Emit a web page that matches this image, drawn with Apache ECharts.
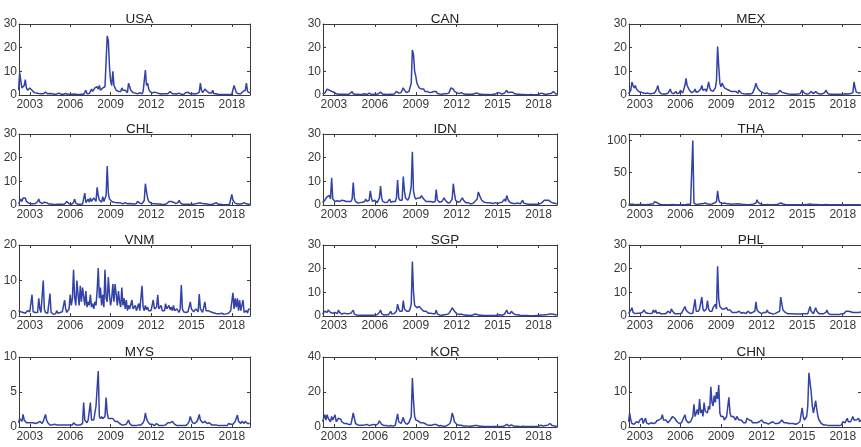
<!DOCTYPE html>
<html><head><meta charset="utf-8">
<script src="https://cdn.jsdelivr.net/npm/echarts@6/dist/echarts.min.js"></script>
<style>html,body{margin:0;padding:0;background:#fff}#c{width:861px;height:447px}</style>
</head><body><div id="c"></div>
<script>
// Monthly series, Mar 2002 .. May 2019 (207 values each)
const panelNames = ['USA','CAN','MEX','CHL','IDN','THA','VNM','SGP','PHL','MYS','KOR','CHN'];
const yMax  = [30,30,30,30,30,110,20,30,30,10,40,20];
const yStep = [10,10,10,10,10,50,10,10,10,5,20,10];
const xTickYears = [2003,2006,2009,2012,2015,2018];
const startYear = 2002, startMonth = 3;

const USA = [
2,9.5,6,3,2.5,4,6.5,3,2,2.5,
3,2.5,2,1.5,1,1.2,0.8,1,0.6,0.8,0.5,0.6,
0.5,0.8,1.2,0.6,0.5,0.4,0.6,1,0.5,0.4,0.3,0.5,
0.4,0.3,0.8,0.4,0.3,0.5,0.3,0.2,0.6,0.4,0.3,0.3,
0.3,0.5,0.3,0.9,0.4,0.3,0.2,0.3,0.2,0.4,0.3,0.2,
0.3,0.5,2,0.5,0.4,0.6,1.5,2.5,1.5,2,3,2.5,
3.5,2.5,4,2,1.5,3,2.5,3.5,4,25,23,12,
6,4,10,4,3,2,2.5,1.5,2,1.5,3,2,
1.5,2,2.5,1,5,3.5,2,1.5,1,1,0.8,0.6,
0.5,0.8,1,0.6,0.5,1.5,2,10.5,4,5,2.5,1.5,
1,0.8,0.6,1.2,1.5,1,0.7,0.6,0.5,0.4,0.6,0.5,
0.4,0.5,0.6,0.5,1.2,1.5,0.8,0.5,0.4,0.5,0.6,0.4,
0.3,0.8,0.5,0.3,0.3,0.2,0.4,1,0.5,1.2,0.6,0.5,
1,0.6,0.5,0.4,0.8,0.6,0.8,1.2,5,2,1,0.8,
2.5,3,1.5,1,0.8,1.5,0.8,2,0.5,0.4,0.5,0.3,
0.2,0.3,0.2,0.1,0.2,0.1,0.2,0.1,0.2,0.1,0.2,0.3,
0.3,1,4,2.5,1,0.6,0.5,0.3,0.5,0.4,1.5,1,
2,5,1.5,1,0.8];

const CAN = [
0.5,1,0.8,1.5,2.5,3,2,2.5,1.5,1,
1.2,0.8,0.5,0.4,0.3,0.5,0.3,0.2,0.3,0.2,0.3,0.2,
0.2,0.3,0.5,0.8,1.5,0.5,0.3,0.2,0.2,0.3,0.2,0.2,
0.2,0.3,0.2,0.5,0.3,0.2,0.2,0.8,0.3,0.2,0.2,0.3,
0.2,0.3,0.2,0.5,0.8,1.2,0.4,0.3,0.2,0.3,0.2,0.2,
0.2,0.3,0.5,0.3,0.2,0.4,0.8,1.5,1,0.8,1.2,1,
2,3,2,1.5,1,1.2,1.5,2,5,19,17,10,
8,5,4,3,3.5,2.5,2,2.5,1.5,2,1.5,1,
1,0.8,1.2,0.8,1.5,0.8,1.5,0.6,0.5,0.4,0.5,0.3,
0.4,0.5,0.3,0.5,0.6,0.8,1.5,3,3,2.5,1.5,1.2,
1,0.8,0.6,0.5,1,0.8,0.5,0.4,0.3,0.4,0.3,0.3,
0.3,0.2,0.3,0.4,0.6,1,0.8,0.5,0.3,0.2,0.3,0.2,
0.2,0.1,0.2,0.1,0.2,0.2,0.1,0.2,0.3,0.5,0.4,0.5,
1,1.5,0.8,0.5,0.4,0.5,0.8,1.5,2,1,0.8,1.2,
2,1.2,0.8,0.5,0.4,0.3,0.5,0.3,0.2,0.2,0.3,0.2,
0.2,0.1,0.2,0.1,0.1,0.2,0.1,0.1,0.2,0.1,0.2,0.1,
0.2,0.5,1,0.8,0.4,0.3,0.2,0.3,0.2,0.5,0.4,0.6,
1,1.5,0.8,0.5,0.3];

const MEX = [
0.5,1,2,5.5,4,3,4,2.5,2,1.5,
1.5,1.2,1,0.8,1,0.6,0.5,0.8,0.6,0.5,0.8,0.6,
0.5,0.8,1.5,2.5,4,1.5,0.8,0.5,0.6,0.4,0.5,0.4,
0.5,0.8,1.5,2.5,1,0.6,0.5,0.8,1.5,0.6,0.5,0.8,
2,1.2,0.8,1.5,4,7,4,3,2,1.2,1,0.8,
1.5,2.5,1.2,0.8,1.5,2,2.5,4,2,1.5,2.5,1.5,
3,5.5,3,2,2.5,1.5,2,3,6,20.5,12,5,
3.5,5,4,3,3.5,2.5,3,2,2.5,1.5,2,1.5,
1.2,1.5,1,0.8,2,1.5,0.8,0.6,0.5,0.6,0.4,0.5,
0.5,0.6,0.4,0.5,0.8,1.5,3,5,3.5,2.5,2,1.5,
1.2,1,0.8,0.6,1,0.8,0.5,0.4,0.6,0.4,0.5,0.4,
0.4,0.5,0.6,1,2,1.5,1.2,1,0.8,1,0.6,0.5,
0.4,0.5,0.3,0.4,0.3,0.4,0.3,0.5,0.4,0.6,0.5,1,
2,1.2,0.8,0.5,0.4,0.6,0.5,0.8,1.5,0.8,0.6,1,
1.5,1,0.6,0.5,0.4,0.6,0.5,0.8,1,2,1.2,0.5,
0.4,0.3,0.2,0.3,0.2,0.3,0.2,0.3,0.2,0.3,0.2,0.3,
0.3,0.4,0.3,0.5,0.6,0.4,0.5,0.6,0.5,1,5.5,3,
1.2,1,0.8,1.5,1];

const CHL = [
0.5,1,2.5,1.5,3,2.5,3,1.5,1,0.8,
0.6,0.5,0.8,0.5,0.4,0.6,0.8,1.5,2.5,1.2,0.8,0.6,
0.8,1.2,1.5,1,0.6,0.4,0.3,0.4,0.3,0.2,0.3,0.2,
0.2,0.3,0.5,0.3,0.2,0.3,0.2,0.4,0.8,1.5,1,0.5,
0.4,0.3,0.5,1,2.5,0.8,0.4,0.3,0.2,0.3,0.2,0.4,
0.5,5,1,0.8,2.5,1.2,3,1.5,2,3,2.5,1.5,
7.5,4,2,1.5,1.2,3.5,1.5,2,4,16.5,5,2.5,
2,1.5,2,1.2,2,1,0.8,1,0.6,0.8,0.6,0.5,
0.8,1,0.6,0.5,0.8,0.6,0.4,0.5,0.3,0.4,0.5,0.6,
1.5,1.2,0.8,0.6,0.5,1,2,9,5.5,3,1.5,1,
0.8,0.6,0.5,0.4,0.5,0.3,0.4,0.3,0.4,0.3,0.2,0.3,
0.3,0.4,0.5,0.8,1.5,2,1.5,1,1.2,0.8,0.6,0.5,
1,2,1,0.5,0.3,0.4,0.3,0.2,0.3,0.2,0.3,0.2,
0.2,0.3,0.4,0.3,0.5,0.6,0.8,1,0.8,0.5,0.6,0.4,
0.5,0.3,0.4,0.3,0.2,0.3,0.2,0.3,0.5,0.8,1,0.5,
0.3,0.2,0.3,0.2,0.1,0.2,0.1,0.2,0.1,0.2,0.3,0.5,
4.5,2,1.2,0.8,0.5,0.4,0.3,0.4,0.3,0.5,0.8,1,
0.6,0.5,0.4,0.3,0.4];

const IDN = [
1,1.5,2,2.5,3.5,3,4,2.5,11.5,2.5,
2,1.5,2,1.8,2,1.5,1.8,2,1.5,1.8,1.2,1.5,
1.2,1.5,2,1.5,2.5,9.5,3,1.5,1,0.8,1.2,1,
1.5,1.2,1,1.5,2.5,1.5,1.2,2,6,3,1.5,1.2,
2,1.5,1,1.5,3,8,3,1.5,1.2,1,1.5,1.2,
1.5,2.5,1.2,1,1.5,2,1.5,3,10.5,3,2,2.5,
2,12,6,3,2.5,2,3,5,8,22.5,6,3.5,
2.5,2,3,2.5,3,4,3.5,2.5,2,1.5,2,1.5,
1.2,1.5,1,1.2,2,1.5,6.5,2,1.5,1.2,1,1.5,
2,3,2,1.2,1,1.5,1,1.5,2.5,9,5,2,
1.5,1.2,1,1.5,1,3,2,1.2,1,0.8,1,0.6,
0.5,0.8,0.6,1,1.5,1.2,2.5,5.5,5.5,3,2,1.5,
1.2,1.5,1,0.8,1,0.6,0.8,0.5,0.6,0.8,1,0.8,
0.6,0.8,1,0.8,1.2,1.5,2.5,1.5,4,2.5,1.5,1,
0.8,1,0.6,0.8,0.6,0.5,0.8,0.6,0.5,1,2,0.8,
0.6,0.5,0.4,0.3,0.4,0.3,0.2,0.3,0.2,0.3,0.4,0.3,
0.4,0.5,0.8,1,1.5,2,1.8,2,1.5,2,1.5,1.2,
1,0.8,1.5,0.6,0.5];

const THA = [
1,1.5,1,0.8,1,0.6,0.5,0.8,0.6,0.5,
0.6,0.5,0.8,0.6,0.5,0.4,0.6,0.5,0.8,1,1.5,1,
1.5,5,3,4,2,1.5,1,0.8,0.6,0.5,0.4,0.5,
0.4,0.5,0.3,0.4,0.5,0.6,0.4,0.3,0.5,0.4,0.6,0.5,
0.8,0.5,0.6,0.4,0.5,0.6,0.8,1,0.6,0.8,1.5,100,
3,1,0.8,0.6,1,1.5,2,4,2,1.5,3,2,
1.5,2,1.2,1,1.5,2,3,4,5,22,8,4,
3,2.5,2,3,2.5,2,4,2,1.5,1.2,1,1.5,
1,1.5,1,2,3,1.5,1,0.8,0.6,0.8,0.6,0.5,
0.5,0.6,0.5,0.8,1,1.5,2,3,8,4,2,1.5,
1,0.8,0.6,0.5,0.8,0.6,0.5,0.4,0.5,0.4,0.5,0.4,
0.5,0.6,1,1.5,4,3,2.5,1.5,1,0.8,0.6,0.5,
0.5,0.4,0.6,0.5,0.4,0.3,0.5,0.4,0.3,0.4,0.5,0.4,
0.3,0.4,0.5,0.6,1,0.8,1,1.5,1,0.8,0.5,0.6,
0.8,0.6,0.5,0.4,0.5,0.4,0.3,0.4,0.5,0.6,1,0.5,
0.3,0.2,0.3,0.2,0.3,0.2,0.3,0.2,0.3,0.2,0.3,0.2,
0.3,0.4,0.3,0.5,0.4,0.3,0.4,0.5,0.4,0.5,0.6,0.5,
0.4,0.5,0.3,0.4,0.3];

const VNM = [
1.5,2,1.2,1.5,1,1.2,0.8,1,1.5,1,
1.2,1,6,1.2,0.8,1,0.6,1,5,2,1,1.5,
10,2,1,1.5,0.8,1,6.3,1,0.6,0.5,1,0.6,
1.5,0.8,0.6,1,0.8,1.2,1,4.5,2,1,1.5,2,
6,3,5,13,5,3,10,6,3,8.5,4,8,
8,3,7,2.5,4,3,6,2.5,3.5,2,4,3,
7,13.5,5,8,3,6,2.5,13,5,4,11,6,
3,5,9,4,9,6,3,7,4,2.5,8,3,
5,2,4.5,1.5,3,2,1.5,4.5,2,1.5,3,1.5,
2,3.5,1.5,2,8.5,2.5,1.5,3,1.8,2.5,1.5,2,
1.5,3,4.5,2,1.5,2.5,6,2,1.5,3,1.5,2,
1.5,3.5,2,1.5,3,1.8,2.5,1.5,3,1.5,1.2,2,
1.5,1,2,8.7,2,1.2,1.5,1,1.5,1.2,1,4,
2,1.5,1.2,1,2,1.5,1.2,6.2,2,1.5,1,1.2,
4,1.5,1.2,1.5,1,1.2,0.8,1,1.5,0.8,1,0.6,
0.8,0.6,0.5,0.8,0.6,0.5,0.4,0.6,0.5,0.8,1,1.5,
2,6.5,2,5,2.5,5,1.5,4.5,1.5,1,4.5,1,
1,1.5,0.8,2,1.8];

const SGP = [
0.8,1.5,2,2.5,1.5,2.5,2,1.5,2,1.2,
1,1.5,1.2,1,2.5,1.5,1,0.8,1,1.2,2,1,
0.8,1,0.8,1.2,1.5,2.5,0.8,0.5,0.4,0.5,0.3,0.4,
0.3,0.4,0.3,0.2,0.3,0.5,0.3,0.2,0.3,0.4,0.3,0.5,
0.4,0.3,0.5,0.8,1.5,2.5,1,0.5,0.4,0.3,0.5,0.4,
0.5,0.8,2,0.8,0.6,1,1.5,2,5,3,2,2.5,
2,6.5,3,2.5,2,2.5,2,3,5,23,10,4.5,
4,3.5,3,4,3.5,3,2.5,2,2.5,2,1.5,1.2,
1,1.2,0.8,1,1.5,1,2.5,0.8,0.5,0.4,0.5,0.3,
0.4,0.5,0.3,0.6,0.8,1,1.5,2.5,3.5,3,2,1.2,
1,0.8,0.6,0.5,0.8,0.6,0.5,0.4,0.3,0.4,0.3,0.2,
0.2,0.3,0.4,0.5,0.8,1,0.6,0.4,0.3,0.2,0.3,0.2,
0.2,0.1,0.2,0.1,0.2,0.1,0.2,0.1,0.2,0.3,0.2,0.3,
0.4,0.3,0.5,0.4,0.3,0.5,0.8,1.5,2.5,1.2,0.8,1,
2,1.5,1,0.6,0.5,0.4,0.5,0.3,0.2,0.3,0.2,0.3,
0.2,0.1,0.2,0.1,0.1,0.2,0.1,0.2,0.1,0.1,0.2,0.1,
0.2,0.3,0.4,0.5,0.4,0.6,0.5,0.8,0.6,0.5,0.8,1,
0.8,1,0.6,0.5,0.4];

const PHL = [
1,1.5,2.5,3.5,1.5,1.2,1,1.5,1.2,1,
1.2,1,1.5,2,2.5,1.5,2,1.2,1.5,1,1.5,1.2,
2.5,1.5,2.5,1.2,1,1.5,1,0.8,1.2,1,0.8,1,
1.5,2,1.5,1.2,3,2,1.5,1,0.8,1,1.2,1,
1.5,1.2,2,3,4,2.5,2,1.5,1.2,1,1.5,1.2,
2,7,2,1.5,2,3,2.5,8,3,2,2.5,3,
6.5,3,2,2.5,2,3.5,3,5,3,21,7,4,
4,3,3.5,3,2.5,3.5,2.5,2,2.5,2,1.5,2,
1.5,2,1.5,1.2,2,1.5,1.2,1,1.5,1.2,1,1.2,
2,1.5,1.2,1,1.5,1.2,2,6,2.5,2,1.5,1.2,
1,1.2,1.5,1.2,1.5,2.5,1.5,1,1.2,1,0.8,1,
1,1.2,1.5,1.2,2,8,5,2.5,2,1.5,1.2,1,
1.2,1,0.8,1,1.2,0.8,1,0.8,1,0.8,1,0.8,
0.8,1,0.8,1,1.2,1,1.5,4,2,1.5,1,1.2,
3.5,2,1.2,1,0.8,1,0.8,1,1.2,1.5,2.5,1.2,
0.8,0.6,0.8,0.6,0.5,0.6,0.5,0.6,0.5,0.6,0.8,1,
1.2,1,1.5,2,1.5,2,1.5,1.8,2,1.5,1.2,1.5,
1.2,1.5,2,1.5,1.8];

const MYS = [
0.6,1.2,1,0.8,1.8,1,0.8,0.6,0.8,0.6,
0.8,0.6,0.5,0.6,0.4,0.5,0.4,0.6,0.5,0.8,0.6,0.5,
0.8,1,1.8,1,0.6,0.4,0.3,0.4,0.3,0.5,0.4,0.3,
0.3,0.4,0.3,0.2,0.3,0.4,0.3,0.2,0.3,0.4,0.3,0.2,
0.3,0.2,0.3,0.6,0.5,0.3,0.2,0.3,0.2,0.3,0.4,0.5,
3.5,1,0.8,0.6,1,1,3.5,1,1.2,1,0.8,3,
3,8,1.5,1.2,1.5,1.2,1,1.5,4.2,2,1.2,1,
1.2,1,1.2,1,0.8,1,0.8,0.6,0.5,0.4,0.3,0.4,
0.3,0.2,0.4,0.6,1,0.5,0.3,0.2,0.3,0.2,0.3,0.2,
0.2,0.3,0.2,0.3,0.4,0.6,1,2,1.2,0.8,0.6,0.4,
0.3,0.4,0.3,0.2,0.3,0.5,0.3,0.2,0.3,0.2,0.3,0.2,
0.2,0.3,0.4,0.6,0.8,0.6,0.5,0.8,0.6,0.4,0.3,0.2,
0.3,0.2,0.3,0.2,0.3,0.2,0.3,0.2,0.3,0.5,0.8,1.5,
1,0.6,0.4,0.5,0.6,0.8,1.2,1.8,1,0.8,0.6,0.5,
0.8,0.6,0.5,0.4,0.6,0.4,0.3,0.2,0.3,0.2,0.3,0.2,
0.2,0.1,0.2,0.1,0.2,0.1,0.2,0.3,0.2,0.5,0.3,0.4,
0.5,0.4,0.6,0.8,1,1.7,0.8,0.6,0.5,0.8,0.6,0.5,
0.8,0.6,0.5,0.4,0.5];

const KOR = [
3,5,7,4,7,5,6,3,6,4,
5,7,3,4,5,4,4.5,3,4,2,2.5,2,
2.5,1.5,2,1.5,2,8,5,2,1.5,1.2,1.5,1,
1.2,1,1.5,1.2,1,1.5,1,0.8,1.5,1.2,1,1.5,
1.2,1,1.5,2,3.5,2.5,1.5,1,0.8,0.6,0.8,0.6,
0.5,0.6,0.8,0.6,0.5,0.8,1,2,7.5,3,2.5,2,
2.5,5.5,3,2,1.5,2,2.5,3,6,28,15,6,
4,3,3.5,3,2.5,2,2.5,1.5,2,1.5,1.2,1.5,
1,1.2,1,0.8,1.5,1,1.5,0.8,0.6,0.5,0.8,0.6,
0.5,0.6,0.5,0.8,1,1.5,2,4,8,6,3,2,
1.5,1.2,1,0.8,1,0.8,0.6,0.5,0.6,0.4,0.5,0.4,
0.4,0.5,0.6,0.5,0.8,1,0.8,0.5,0.4,0.3,0.4,0.3,
0.3,0.2,0.3,0.2,0.3,0.2,0.3,0.2,0.3,0.2,0.3,0.2,
0.3,0.2,0.3,0.4,0.3,0.5,0.6,1,1.5,0.8,0.6,0.8,
1.2,0.8,0.6,0.5,0.4,0.6,0.4,0.3,0.2,0.3,0.5,0.4,
0.3,0.2,0.3,0.2,0.3,0.2,0.3,0.2,0.3,0.2,0.3,0.4,
0.5,0.8,1,0.8,0.6,1,0.8,0.6,1,1.2,2,1,
0.8,1,0.6,0.5,0.4];

const CHN = [
1.5,4,2,1,1.5,0.8,1,1.5,2,1.2,
2,1.5,2.5,1,1.5,2.5,1.2,1,0.8,1,1.2,1,
1,1.5,1.2,1.8,1.5,2,1.8,2.5,3.5,2,1.5,2,
1.5,1.2,1.5,2,2.5,3,2.8,2.5,2,1.5,1.2,1,
1.5,1.2,2,2.5,3.5,2,1.5,1.2,1,1.5,2,3,
6.5,3,4,5,3.5,8,4,5,3,7,4.5,5,
4,6,5,11.5,7,6,9,7,10,8,12,4,
3,2.5,3,2,2.5,3,2.5,8.5,4,3,2.5,3,
2.5,2,3,2.5,2,1.5,2,1.5,1.2,1.5,1.2,2.5,
2.5,2,1.5,1.8,1.2,1.5,1.2,1,1.2,1.5,1.5,2,
2,1.5,1.2,1,1.2,1,0.8,1,1.2,1,1.5,1.2,
1,1.2,1,1.5,1.2,1.5,2,1.5,1.2,1,1.2,1,
1,0.8,1,0.8,1,0.6,0.8,0.6,1,1.2,1.5,2,
5.5,3,2,2.5,3,6,15.5,16,10,6,4,3.5,
7.5,5,3,2,1.5,1,0.8,0.6,0.5,0.6,0.5,0.4,
0.5,0.4,0.5,0.4,0.5,0.4,0.3,0.4,0.5,0.4,0.5,0.6,
1.5,1,1.2,1.5,2.5,1.5,1.2,1.5,2,3,2,1.5,
2,1.5,2.5,1.5,2];

const allSeries = [USA, CAN, MEX, CHL, IDN, THA, VNM, SGP, PHL, MYS, KOR, CHN];

// ---- layout ----
const colLeft = [19, 323, 629], colWidth = [231, 234, 234];
const rowTop = [24, 134, 245, 357], rowHeight = [71, 71, 71, 70];
const xMin = 2002.2, xMax = 2019.35;
const FONT = '"Liberation Sans", Arial, Helvetica, sans-serif';
const AX = '#3a3a3a', TXT = '#3a3a3a', LINE = '#3242a6';

function near(v, step) { return Math.abs(v / step - Math.round(v / step)) < 1e-6; }

const grid = [], xAxis = [], yAxis = [], series = [], title = [];
panelNames.forEach((name, k) => {
  const r = Math.floor(k / 3), c = k % 3;
  grid.push({ left: colLeft[c], top: rowTop[r], width: colWidth[c], height: rowHeight[r] });
  title.push({ text: name, left: colLeft[c] + colWidth[c] / 2, top: rowTop[r] - 17, textAlign: 'center',
    textStyle: { fontSize: 13.5, fontWeight: 'normal', color: '#222', fontFamily: FONT } });
  const axLine = { show: true, onZero: false, lineStyle: { color: AX, width: 1 } };
  const xtick = { show: true, inside: true, length: 3, customValues: xTickYears, lineStyle: { color: AX, width: 1 } };
  const xBase = { type: 'value', gridIndex: k, min: xMin, max: xMax,
    axisLine: axLine, axisTick: xtick, splitLine: { show: false } };
  xAxis.push(Object.assign({}, xBase, { position: 'bottom',
    axisLabel: { fontSize: 12, color: TXT, margin: 4, fontFamily: FONT, customValues: xTickYears,
      formatter: v => String(Math.round(v)) } }));
  xAxis.push(Object.assign({}, xBase, { position: 'top', axisLabel: { show: false } }));
  const st = yStep[k];
  const ytick = { show: true, inside: true, length: 3, lineStyle: { color: AX, width: 1 } };
  const yBase = { type: 'value', gridIndex: k, min: 0, max: yMax[k], interval: st,
    axisLine: axLine, axisTick: ytick, splitLine: { show: false } };
  yAxis.push(Object.assign({}, yBase, { position: 'left',
    axisLabel: { fontSize: 12, color: TXT, margin: 2, fontFamily: FONT,
      formatter: v => near(v, st) ? String(Math.round(v)) : '' } }));
  yAxis.push(Object.assign({}, yBase, { position: 'right', axisLabel: { show: false } }));
  const vals = allSeries[k];
  const data = vals.map((v, i) => [startYear + (startMonth - 1 + i) / 12, v]);
  series.push({ type: 'line', xAxisIndex: 2 * k, yAxisIndex: 2 * k, data, showSymbol: false,
    clip: true, lineStyle: { color: LINE, width: 1.5 }, silent: true });
});

const chart = echarts.init(document.getElementById('c'), null, { renderer: 'canvas' });
chart.setOption({ animation: false, backgroundColor: '#fff', title, grid, xAxis, yAxis, series });
</script></body></html>
